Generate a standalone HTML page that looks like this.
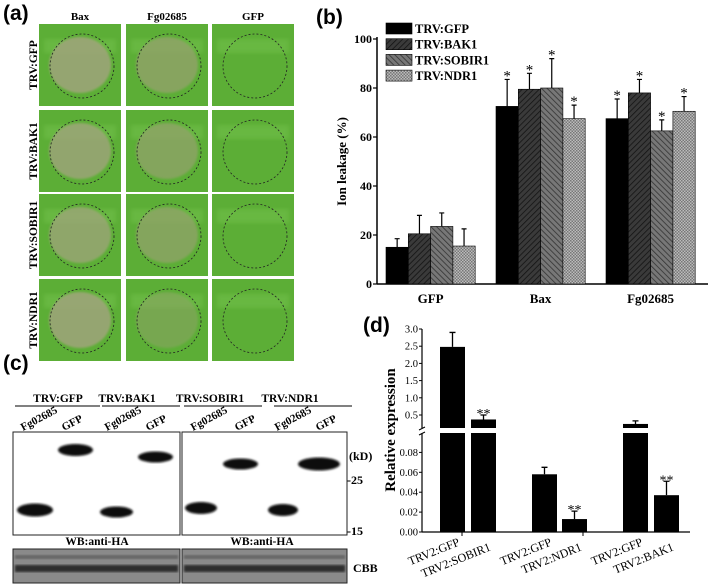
<!DOCTYPE html>
<html><head><meta charset="utf-8"><style>
html,body{margin:0;padding:0;background:#fff;}
svg{display:block;font-family:"Liberation Serif",serif;}
.sans{font-family:"Liberation Sans",sans-serif;}
</style></head><body>
<svg id="fig" width="709" height="588" viewBox="0 0 709 588">
<defs>
<pattern id="pBAK" width="4" height="4" patternUnits="userSpaceOnUse" patternTransform="rotate(45)"><rect width="4" height="4" fill="#3a3a3a"/><line x1="0" y1="0" x2="0" y2="4" stroke="#111" stroke-width="1.5"/></pattern>
<pattern id="pSOB" width="4" height="4" patternUnits="userSpaceOnUse" patternTransform="rotate(-45)"><rect width="4" height="4" fill="#777"/><line x1="0" y1="0" x2="0" y2="4" stroke="#333" stroke-width="1.6"/></pattern>
<pattern id="pNDR" width="3" height="3" patternUnits="userSpaceOnUse"><rect width="3" height="3" fill="#bbb"/><rect width="1.5" height="1.5" fill="#777"/><rect x="1.5" y="1.5" width="1.5" height="1.5" fill="#777"/></pattern>
<filter id="blur"><feGaussianBlur stdDeviation="2"/></filter>
<filter id="blur1"><feGaussianBlur stdDeviation="1"/></filter>
</defs>

<g>
<text x="3" y="20" class="sans" font-size="21" font-weight="bold">(a)</text>
<text x="80" y="20" font-size="11" font-weight="bold" text-anchor="middle">Bax</text>
<text x="167" y="20" font-size="11" font-weight="bold" text-anchor="middle">Fg02685</text>
<text x="253" y="20" font-size="11" font-weight="bold" text-anchor="middle">GFP</text>
<g id="photos"></g>
</g>

<g id="chartB">
<text x="316" y="24" class="sans" font-size="21" font-weight="bold">(b)</text>
</g>

<g>
<text x="3" y="370" class="sans" font-size="21" font-weight="bold">(c)</text>
<g id="blot"></g>
</g>

<g id="chartD">
<text x="363" y="332" class="sans" font-size="21" font-weight="bold">(d)</text>
</g>
</svg>

<script>
const NS="http://www.w3.org/2000/svg";
function mk(tag,attrs,parent,text){const e=document.createElementNS(NS,tag);for(const k in attrs)e.setAttribute(k,attrs[k]);if(text!==undefined)e.textContent=text;parent.appendChild(e);return e;}

const photoG=document.getElementById('photos');
const rowNames=["TRV:GFP","TRV:BAK1","TRV:SOBIR1","TRV:NDR1"];
const colX=[39,126,212], rowY=[24,110,194,279], pw=82, ph=82;
const lesion=[[0.85,0.8,0.1],[0.8,0.75,0.1],[0.75,0.75,0.1],[0.85,0.5,0.05]];
rowNames.forEach((r,ri)=>{
  const t=mk('text',{x:0,y:0,'font-size':11.5,'font-weight':'bold','text-anchor':'middle',transform:`translate(37,${rowY[ri]+41}) rotate(-90)`},photoG,r);
  
  
  colX.forEach((cx,ci)=>{
    const g=mk('g',{},photoG);
    
    
    mk('rect',{x:cx,y:rowY[ri],width:pw,height:ph,fill:'#5cae36'},g);
    mk('rect',{x:cx+5,y:rowY[ri]+15,width:pw-10,height:14,fill:'#74c24e',opacity:0.5,filter:'url(#blur)'},g);
    const a=lesion[ri][ci];
    if(a>0.2) mk('ellipse',{cx:cx+41,cy:rowY[ri]+41,rx:31,ry:28,fill:ci==0?'#a0a47c':'#92a26a',opacity:a,filter:'url(#blur1)'},g);
    mk('circle',{cx:cx+43,cy:rowY[ri]+42,r:32,fill:'none',stroke:'#222','stroke-width':0.8,'stroke-dasharray':'2,2'},g);
  });
});

const bCats=["GFP","Bax","Fg02685"];
const bSeries=["TRV:GFP","TRV:BAK1","TRV:SOBIR1","TRV:NDR1"];
const bGFP=[15,20.5,23.5,15.5];
const bGFPerr=[3.5,7.5,5.5,7];
const bBax=[72.5,79.5,80,67.5];
const bBaxErr=[11,6.5,12,5.5];
const bFg=[67.5,78,62.5,70.5];
const bFgErr=[8,5.5,4.5,6];
const bStar=[[false,false,false,false],[true,true,true,true],[true,true,true,true]];
const bTicks=[0,20,40,60,80,100];

(function(){
  const G=document.getElementById('chartB');
  const x0=377,x1=708,y0=284,y100=39;
  const y=v=>y0-(v/100)*(y0-y100);
  const fills=['#000','url(#pBAK)','url(#pSOB)','url(#pNDR)'];
  const vals=[bGFP,bBax,bFg], errs=[bGFPerr,bBaxErr,bFgErr];
  const groupStart=[386,496,606], bw=22.3;
  mk('line',{x1:x0,y1:y0,x2:x1,y2:y0,stroke:'#000','stroke-width':1.5},G);
  mk('line',{x1:x0,y1:y0,x2:x0,y2:y100-2,stroke:'#000','stroke-width':1.5},G);
  bTicks.forEach(t=>{
    mk('line',{x1:x0-4,y1:y(t),x2:x0,y2:y(t),stroke:'#000','stroke-width':1.2},G);
    const tx=mk('text',{x:x0-5,y:y(t)+4,'font-size':12,'font-weight':'bold','text-anchor':'end'},G,t);
    
    
  });
  const yt=mk('text',{x:0,y:0,'font-size':13,'font-weight':'bold','text-anchor':'middle',transform:`translate(346,${y(50)}) rotate(-90)`},G,'Ion leakage (%)');
  
  
  bCats.forEach((c,ci)=>{
    const gs=groupStart[ci];
    vals[ci].forEach((v,si)=>{
      const bx=gs+si*bw;
      const r=mk('rect',{x:bx,y:y(v),width:bw,height:y0-y(v),fill:fills[si],stroke:'#000','stroke-width':0.6},G);
      
      
      const top=y(v+errs[ci][si]), cxm=bx+bw/2;
      const e=mk('path',{d:`M${cxm},${y(v)} V${top} M${cxm-2.5},${top} H${cxm+2.5}`,stroke:'#000','stroke-width':1.2,fill:'none'},G);
      
      
      if(bStar[ci][si]){
        const s=mk('text',{x:cxm,y:top+1,'font-size':15,'text-anchor':'middle'},G,'*');
        
        
      }
    });
    const cl=mk('text',{x:gs+2*bw,y:303,'font-size':13,'font-weight':'bold','text-anchor':'middle'},G,c);
    
    
  });
  bSeries.forEach((s,si)=>{
    const ly=23+si*15.7;
    const sw=mk('rect',{x:386,y:ly,width:26,height:11,fill:fills[si],stroke:'#000','stroke-width':0.6},G);
    
    
    const lt=mk('text',{x:415,y:ly+10,'font-size':12.5,'font-weight':'bold'},G,s);
    
    
  });
})();

(function(){
  const G=document.getElementById('blot');
  const heads=[["TRV:GFP",58,15,100],["TRV:BAK1",127,102,180],["TRV:SOBIR1",210,184,262],["TRV:NDR1",290,274,352]];
  heads.forEach(h=>{
    const t=mk('text',{x:h[1],y:402,'font-size':11.5,'font-weight':'bold','text-anchor':'middle'},G,h[0]);
    
    
    mk('line',{x1:h[2],y1:406,x2:h[3],y2:406,stroke:'#000','stroke-width':1},G);
  });
  const lanes=[[23,"Fg02685"],[64,"GFP"],[107,"Fg02685"],[148,"GFP"],[193,"Fg02685"],[237,"GFP"],[277,"Fg02685"],[318,"GFP"]];
  lanes.forEach(l=>{
    const t=mk('text',{x:0,y:0,'font-size':11,'font-weight':'bold',transform:`translate(${l[0]},${431}) rotate(-28)`},G,l[1]);
    
    
  });
  [[13,167],[182,165]].forEach(b=>{
    const r=mk('rect',{x:b[0],y:432,width:b[1],height:103,fill:'#fff',stroke:'#222','stroke-width':1},G);
    
    
  });
  const bands=[[58,450,35,12],[17,510,36,13],[138,457,35,11],[100,512,33,11],[223,464,35,11],[185,508,32,12],[298,464,42,13],[268,510,30,12]];
  bands.forEach(b=>{
    const e=mk('ellipse',{cx:b[0]+b[2]/2,cy:b[1],rx:b[2]/2,ry:b[3]/2,fill:'#080808',filter:'url(#blur1)'},G);
    
    
  });
  [["(kD)",349,460],["-25",347,484],["-15",347,535]].forEach(m=>{
    const t=mk('text',{x:m[1],y:m[2],'font-size':12,'font-weight':'bold'},G,m[0]);
    
    
  });
  [97,262].forEach(x=>{
    const t=mk('text',{x:x,y:545,'font-size':11.5,'font-weight':'bold','text-anchor':'middle'},G,'WB:anti-HA');
    
    
  });
  [[13,167],[182,165]].forEach(b=>{
    const r=mk('rect',{x:b[0],y:549,width:b[1],height:34,fill:'#8a8a8a',stroke:'#222','stroke-width':1},G);
    
    
    mk('rect',{x:b[0]+2,y:565,width:b[1]-4,height:7,fill:'#2e2e2e',filter:'url(#blur1)'},G);
    mk('rect',{x:b[0]+2,y:555,width:b[1]-4,height:4,fill:'#666',filter:'url(#blur1)'},G);
  });
  const c=mk('text',{x:353,y:572,'font-size':12,'font-weight':'bold'},G,'CBB');
  
  
})();

const dLabels=["TRV2:GFP","TRV2:SOBIR1","TRV2:GFP","TRV2:NDR1","TRV2:GFP","TRV2:BAK1"];
const dValues=[2.48,0.37,0.058,0.013,0.24,0.037];
const dErrors=[0.42,0.13,0.007,0.008,0.09,0.014];
const dStars=["","**","","**","","**"];
const dUpperTicks=[0.5,1.0,1.5,2.0,2.5,3.0];
const dLowerTicks=[0.00,0.02,0.04,0.06,0.08];

(function(){
  const G=document.getElementById('chartD');
  const ax=422, axEnd=690;
  const lowBase=532, lowTop=433, lowMax=0.1;
  const upBot=428;
  const yl=v=>lowBase-(v/0.02)*19.9;
  const yu=v=>415-(v-0.5)*(86/2.5);
  const bx=[440,471,532,562,623,654], bw=25;
  mk('line',{x1:ax,y1:lowBase,x2:axEnd,y2:lowBase,stroke:'#000','stroke-width':1.2},G);
  [462,583].forEach(x=>mk('line',{x1:x,y1:lowBase,x2:x,y2:lowBase+4,stroke:'#000','stroke-width':1},G));
  mk('line',{x1:ax,y1:lowBase,x2:ax,y2:lowTop,stroke:'#000','stroke-width':1.2},G);
  mk('line',{x1:ax,y1:upBot,x2:ax,y2:yu(3.0),stroke:'#000','stroke-width':1.2},G);
  mk('path',{d:`M${ax-3},${upBot+2} L${ax+3},${upBot-1} M${ax-3},${lowTop+2} L${ax+3},${lowTop-1}`,stroke:'#000','stroke-width':1},G);
  dUpperTicks.forEach(t=>{
    mk('line',{x1:ax-3,y1:yu(t),x2:ax,y2:yu(t),stroke:'#000'},G);
    const tx=mk('text',{x:ax-4,y:yu(t)+3.5,'font-size':10.5,'text-anchor':'end'},G,t.toFixed(1));
    
    
  });
  dLowerTicks.forEach(t=>{
    mk('line',{x1:ax-3,y1:yl(t),x2:ax,y2:yl(t),stroke:'#000'},G);
    const tx=mk('text',{x:ax-4,y:yl(t)+3.5,'font-size':10.5,'text-anchor':'end'},G,t.toFixed(2));
    
    
  });
  const yt=mk('text',{x:0,y:0,'font-size':15,'font-weight':'bold','text-anchor':'middle',transform:`translate(395,${430}) rotate(-90)`},G,'Relative expression');
  
  
  dValues.forEach((v,i)=>{
    const x=bx[i], cx=x+bw/2;
    let top, errTop;
    if(v>lowMax){
      const r1=mk('rect',{x:x,y:lowTop,width:bw,height:lowBase-lowTop,fill:'#000'},G);
      
      
      top=yu(v); errTop=yu(v+dErrors[i]);
      const r2=mk('rect',{x:x,y:top,width:bw,height:upBot-top,fill:'#000'},G);
      
      
    } else {
      top=yl(v); errTop=yl(v+dErrors[i]);
      const r=mk('rect',{x:x,y:top,width:bw,height:lowBase-top,fill:'#000'},G);
      
      
    }
    const e=mk('path',{d:`M${cx},${top} V${errTop} M${cx-3},${errTop} H${cx+3}`,stroke:'#000','stroke-width':1.3,fill:'none'},G);
    
    
    if(dStars[i]){
      const s=mk('text',{x:cx,y:errTop+3,'font-size':14,'text-anchor':'middle'},G,dStars[i]);
      
      
    }
    const lx=cx+8, ly=i%2==0?545:550;
    const t=mk('text',{x:0,y:0,'font-size':12,'text-anchor':'end',transform:`translate(${lx},${ly}) rotate(-22)`},G,dLabels[i]);
    
    
  });
})();
</script>
</body></html>
